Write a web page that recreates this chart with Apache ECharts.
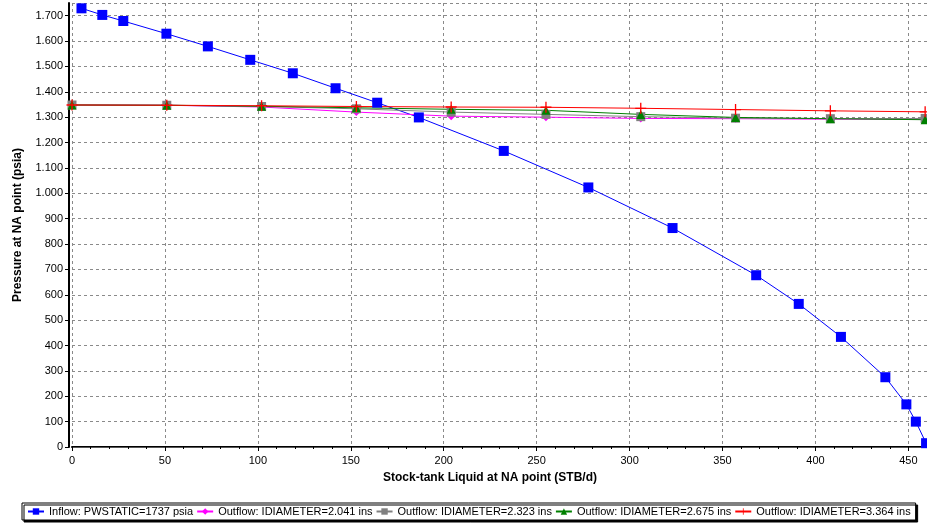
<!DOCTYPE html>
<html>
<head>
<meta charset="utf-8">
<script src="https://cdn.jsdelivr.net/npm/echarts@6/dist/echarts.min.js"></script>
<style>html,body{margin:0;padding:0;background:#fff}#c{width:927px;height:525px}</style>
</head>
<body>
<div id="c"></div>
<script>
// Inflow curve (x: STB/d, y: psia)
const inflowX = [5.1, 16.3, 27.6, 50.8, 73.1, 95.9, 118.8, 141.8, 164.2, 186.6, 232.3, 277.8, 323.1, 368.1, 391.0, 413.7, 437.6, 448.9, 454.0, 459.5];
const inflowY = [1729, 1703, 1679, 1629, 1579, 1526, 1473, 1414, 1357, 1299, 1167, 1023, 863, 677, 564, 434, 275, 168, 100, 15];
// Outflow curves share x points
const outflowX = [0, 51, 102, 153, 204, 255, 306, 357, 408, 459];
const outflow2041 = [1348, 1347, 1340, 1320, 1304, 1300, 1295, 1294, 1292, 1292];
const outflow2323 = [1348, 1347, 1342, 1333, 1320, 1311, 1302, 1296, 1294, 1295];
const outflow2675 = [1348, 1347, 1343, 1337, 1331, 1327, 1311, 1299, 1294, 1290];
const outflow3364 = [1348, 1347, 1345, 1342, 1340, 1339, 1335, 1330, 1325, 1321];
const seriesNames = ['Inflow: PWSTATIC=1737 psia', 'Outflow: IDIAMETER=2.041 ins', 'Outflow: IDIAMETER=2.323 ins', 'Outflow: IDIAMETER=2.675 ins', 'Outflow: IDIAMETER=3.364 ins'];

function pairs(xs, ys) { return xs.map((x, i) => [x, ys[i]]); }
function fmt(v) {
  if (v >= 1000) { const r = v % 1000; return Math.floor(v / 1000) + '.' + String(r).padStart(3, '0'); }
  return String(v);
}
const plus = 'path://M4.4,0H5.6V4.4H10V5.6H5.6V10H4.4V5.6H0V4.4H4.4Z';
const gridLine = { show: true, lineStyle: { color: '#8a8a8a', type: [3, 3], width: 1 } };
const font = 'Arial, "Liberation Sans", sans-serif';

const chart = echarts.init(document.getElementById('c'), null, { renderer: 'canvas' });
chart.setOption({
  animation: false,
  backgroundColor: '#fff',
  textStyle: { fontFamily: font },
  grid: { left: 72, right: 0, top: 3, bottom: 78, containLabel: false },
  legend: {
    top: 503, left: 22, padding: [3, 5, 3, 5], itemGap: 3, itemWidth: 16, itemHeight: 8,
    borderColor: '#000', borderWidth: 1, backgroundColor: '#fff',
    shadowColor: '#000', shadowOffsetX: 2, shadowOffsetY: 2, shadowBlur: 0,
    textStyle: { fontSize: 11, color: '#000', fontFamily: font },
    data: seriesNames
  },
  xAxis: [{
    type: 'value', min: 0, max: 460, interval: 50,
    name: 'Stock-tank Liquid at NA point (STB/d)', nameLocation: 'middle', nameGap: 25,
    nameTextStyle: { fontWeight: 'bold', fontSize: 12, color: '#000', padding: [0, 19, 0, 0] },
    axisLine: { show: true, onZero: false, lineStyle: { color: '#000', width: 2 } },
    axisTick: { show: true, length: 4, lineStyle: { color: '#000' } },
    minorTick: { show: true, splitNumber: 5, length: 2, lineStyle: { color: '#000' } },
    axisLabel: { fontSize: 11, color: '#000', margin: 8, showMaxLabel: false },
    splitLine: gridLine
  }, {
    type: 'value', min: 0, max: 460, position: 'top',
    axisLine: { show: true, lineStyle: { color: '#555', width: 1 } },
    axisTick: { show: false }, axisLabel: { show: false }, splitLine: { show: false }
  }],
  yAxis: {
    type: 'value', min: 0, max: 1750, interval: 100, offset: 3,
    name: 'Pressure at NA point (psia)', nameLocation: 'middle', nameGap: 45,
    nameTextStyle: { fontWeight: 'bold', fontSize: 12, color: '#000' },
    axisLine: { show: true, onZero: false, lineStyle: { color: '#000', width: 2 } },
    axisTick: { show: true, length: 4, lineStyle: { color: '#000' } },
    axisLabel: { fontSize: 11, color: '#000', margin: 6, showMaxLabel: false, formatter: fmt },
    splitLine: gridLine
  },
  series: [
    { name: seriesNames[0], type: 'line', data: pairs(inflowX, inflowY), symbol: 'rect', symbolSize: 10,
      itemStyle: { color: '#0000ff' }, lineStyle: { color: '#0000ff', width: 1 } },
    { name: seriesNames[1], type: 'line', data: pairs(outflowX, outflow2041), symbol: 'diamond', symbolSize: 8,
      itemStyle: { color: '#ff00ff' }, lineStyle: { color: '#ff00ff', width: 1 } },
    { name: seriesNames[2], type: 'line', data: pairs(outflowX, outflow2323), symbol: 'rect', symbolSize: 9,
      itemStyle: { color: '#808080' }, lineStyle: { color: '#808080', width: 1 } },
    { name: seriesNames[3], type: 'line', data: pairs(outflowX, outflow2675), symbol: 'triangle', symbolSize: 9,
      itemStyle: { color: '#008000' }, lineStyle: { color: '#008000', width: 1 } },
    { name: seriesNames[4], type: 'line', data: pairs(outflowX, outflow3364), symbol: plus, symbolSize: 11,
      itemStyle: { color: '#ff0000' }, lineStyle: { color: '#ff0000', width: 1 } }
  ]
});
</script>
</body>
</html>
